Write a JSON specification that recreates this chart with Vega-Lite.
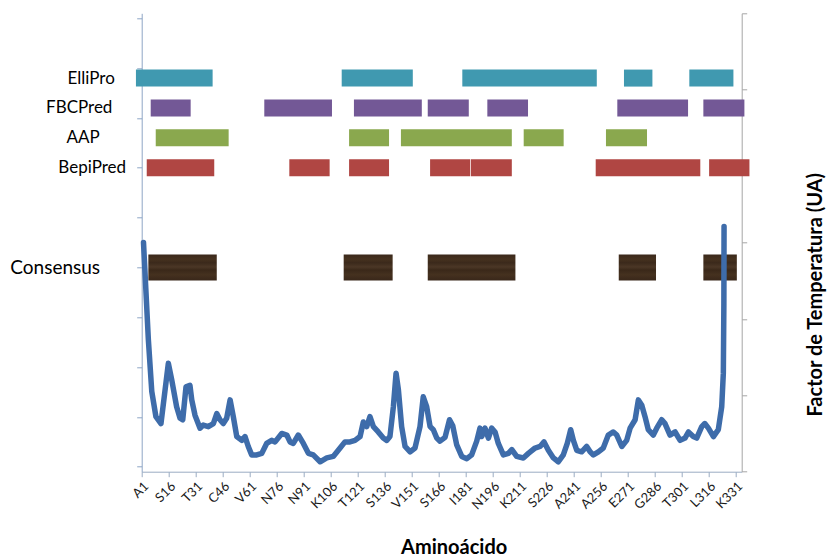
{
  "$schema": "https://vega.github.io/schema/vega-lite/v6.json",
  "width": 600,
  "height": 458.4,
  "autosize": {"type": "none"},
  "padding": {"left": 141.7, "top": 13.3, "right": 91.3, "bottom": 87.3},
  "background": "#ffffff",
  "config": {"view": {"stroke": null}, "axis": {"grid": false}},
  "datasets": {
    "epitopes": [
      {"method": "ElliPro", "level": 7.8, "start": -2.2, "end": 40.4},
      {"method": "ElliPro", "level": 7.8, "start": 112.1, "end": 151.6},
      {"method": "ElliPro", "level": 7.8, "start": 179.1, "end": 253.8},
      {"method": "ElliPro", "level": 7.8, "start": 268.9, "end": 284.7},
      {"method": "ElliPro", "level": 7.8, "start": 305.2, "end": 329.7},
      {"method": "FBCPred", "level": 7.2, "start": 6, "end": 28.2},
      {"method": "FBCPred", "level": 7.2, "start": 69.1, "end": 106.7},
      {"method": "FBCPred", "level": 7.2, "start": 118.9, "end": 156.6},
      {"method": "FBCPred", "level": 7.2, "start": 159.9, "end": 182.7},
      {"method": "FBCPred", "level": 7.2, "start": 193, "end": 215.6},
      {"method": "FBCPred", "level": 7.2, "start": 265.2, "end": 304.5},
      {"method": "FBCPred", "level": 7.2, "start": 313, "end": 335.8},
      {"method": "AAP", "level": 6.6, "start": 8.8, "end": 49.3},
      {"method": "AAP", "level": 6.6, "start": 116.2, "end": 138.4},
      {"method": "AAP", "level": 6.6, "start": 145, "end": 206.6},
      {"method": "AAP", "level": 6.6, "start": 213.2, "end": 235.4},
      {"method": "AAP", "level": 6.6, "start": 258.9, "end": 281.7},
      {"method": "BepiPred", "level": 6, "start": 3.8, "end": 41.3},
      {"method": "BepiPred", "level": 6, "start": 83, "end": 105.4},
      {"method": "BepiPred", "level": 6, "start": 116.2, "end": 138.4},
      {"method": "BepiPred", "level": 6, "start": 161.2, "end": 183.4},
      {"method": "BepiPred", "level": 6, "start": 183.8, "end": 206.6},
      {"method": "BepiPred", "level": 6, "start": 253.2, "end": 311.3},
      {"method": "BepiPred", "level": 6, "start": 316.2, "end": 338.6},
      {"method": "Consensus", "level": 4, "start": 4.7, "end": 42.7},
      {"method": "Consensus", "level": 4, "start": 113.2, "end": 140.4},
      {"method": "Consensus", "level": 4, "start": 159.9, "end": 208.6},
      {"method": "Consensus", "level": 4, "start": 266, "end": 286.7},
      {"method": "Consensus", "level": 4, "start": 313, "end": 331.6}
    ],
    "bfactor": [
      {"residue": 2, "factor": 3.0}, {"residue": 4.7, "factor": 1.73}, {"residue": 6.6, "factor": 1.05},
      {"residue": 8.9, "factor": 0.72}, {"residue": 11.7, "factor": 0.63}, {"residue": 15.8, "factor": 1.42},
      {"residue": 17.7, "factor": 1.2}, {"residue": 20.4, "factor": 0.85}, {"residue": 22.3, "factor": 0.7},
      {"residue": 23.8, "factor": 0.68}, {"residue": 25.6, "factor": 1.11}, {"residue": 27.8, "factor": 1.13},
      {"residue": 28.8, "factor": 0.94}, {"residue": 30.6, "factor": 0.74}, {"residue": 33.4, "factor": 0.57},
      {"residue": 35.2, "factor": 0.61}, {"residue": 38, "factor": 0.59}, {"residue": 40.8, "factor": 0.63},
      {"residue": 42.7, "factor": 0.76}, {"residue": 44.5, "factor": 0.68}, {"residue": 46.3, "factor": 0.63},
      {"residue": 48.2, "factor": 0.7}, {"residue": 50.1, "factor": 0.94}, {"residue": 51.9, "factor": 0.72},
      {"residue": 53.8, "factor": 0.46}, {"residue": 56.6, "factor": 0.41}, {"residue": 58.4, "factor": 0.46},
      {"residue": 60.2, "factor": 0.33}, {"residue": 62.1, "factor": 0.22}, {"residue": 64.9, "factor": 0.22},
      {"residue": 67.7, "factor": 0.24}, {"residue": 70.4, "factor": 0.37}, {"residue": 73.2, "factor": 0.41},
      {"residue": 75.1, "factor": 0.39}, {"residue": 78.8, "factor": 0.5}, {"residue": 81.6, "factor": 0.48},
      {"residue": 83.4, "factor": 0.39}, {"residue": 85.2, "factor": 0.37}, {"residue": 88, "factor": 0.48},
      {"residue": 90.8, "factor": 0.37}, {"residue": 93.6, "factor": 0.24}, {"residue": 96.3, "factor": 0.22},
      {"residue": 100.1, "factor": 0.13}, {"residue": 103.8, "factor": 0.18}, {"residue": 107.4, "factor": 0.2},
      {"residue": 111.2, "factor": 0.31}, {"residue": 113.9, "factor": 0.39}, {"residue": 116.7, "factor": 0.39},
      {"residue": 119.5, "factor": 0.41}, {"residue": 122.3, "factor": 0.46}, {"residue": 124.1, "factor": 0.65},
      {"residue": 126, "factor": 0.59}, {"residue": 127.8, "factor": 0.72}, {"residue": 129.7, "factor": 0.59},
      {"residue": 132.4, "factor": 0.52}, {"residue": 135.2, "factor": 0.44}, {"residue": 137.1, "factor": 0.41},
      {"residue": 138.9, "factor": 0.46}, {"residue": 140.8, "factor": 0.85}, {"residue": 142.3, "factor": 1.29},
      {"residue": 143.6, "factor": 1.07}, {"residue": 145.4, "factor": 0.59}, {"residue": 147.3, "factor": 0.33},
      {"residue": 150.1, "factor": 0.26}, {"residue": 152.8, "factor": 0.31}, {"residue": 155.6, "factor": 0.59},
      {"residue": 157.4, "factor": 0.98}, {"residue": 159.3, "factor": 0.85}, {"residue": 161.2, "factor": 0.59},
      {"residue": 163, "factor": 0.55}, {"residue": 164.9, "factor": 0.44}, {"residue": 166.7, "factor": 0.4},
      {"residue": 169.5, "factor": 0.45}, {"residue": 172, "factor": 0.68}, {"residue": 173.8, "factor": 0.6},
      {"residue": 176, "factor": 0.35}, {"residue": 178.8, "factor": 0.2}, {"residue": 181.6, "factor": 0.17},
      {"residue": 184.3, "factor": 0.22}, {"residue": 187.1, "factor": 0.4}, {"residue": 188.9, "factor": 0.57},
      {"residue": 189.9, "factor": 0.46}, {"residue": 191.7, "factor": 0.57}, {"residue": 193.6, "factor": 0.44},
      {"residue": 195.4, "factor": 0.57}, {"residue": 197.3, "factor": 0.52}, {"residue": 199.1, "factor": 0.37},
      {"residue": 201.9, "factor": 0.22}, {"residue": 204.7, "factor": 0.24}, {"residue": 206.6, "factor": 0.29},
      {"residue": 209.3, "factor": 0.2}, {"residue": 213, "factor": 0.18}, {"residue": 215.8, "factor": 0.24},
      {"residue": 219.5, "factor": 0.31}, {"residue": 222.3, "factor": 0.33}, {"residue": 224.5, "factor": 0.39},
      {"residue": 226.9, "factor": 0.28}, {"residue": 229.7, "factor": 0.18}, {"residue": 232.4, "factor": 0.13},
      {"residue": 235.2, "factor": 0.22}, {"residue": 237.4, "factor": 0.37}, {"residue": 239.3, "factor": 0.55},
      {"residue": 240.8, "factor": 0.41}, {"residue": 242.7, "factor": 0.28}, {"residue": 245.4, "factor": 0.26},
      {"residue": 248.2, "factor": 0.33}, {"residue": 250.1, "factor": 0.26}, {"residue": 251.9, "factor": 0.22},
      {"residue": 254.7, "factor": 0.26}, {"residue": 257.4, "factor": 0.31}, {"residue": 260.2, "factor": 0.48},
      {"residue": 263, "factor": 0.52}, {"residue": 264.9, "factor": 0.48}, {"residue": 267.7, "factor": 0.33},
      {"residue": 270.4, "factor": 0.41}, {"residue": 272.3, "factor": 0.57}, {"residue": 275.1, "factor": 0.68},
      {"residue": 276.9, "factor": 0.94}, {"residue": 278.8, "factor": 0.87}, {"residue": 280.6, "factor": 0.72},
      {"residue": 282.4, "factor": 0.55}, {"residue": 285.2, "factor": 0.48}, {"residue": 287.1, "factor": 0.57},
      {"residue": 289.9, "factor": 0.68}, {"residue": 291.7, "factor": 0.63}, {"residue": 294.5, "factor": 0.48},
      {"residue": 297.3, "factor": 0.52}, {"residue": 300.1, "factor": 0.41}, {"residue": 302.8, "factor": 0.44},
      {"residue": 304.7, "factor": 0.52}, {"residue": 307.4, "factor": 0.46}, {"residue": 309.3, "factor": 0.44},
      {"residue": 312.1, "factor": 0.59}, {"residue": 313.8, "factor": 0.63}, {"residue": 315.8, "factor": 0.57},
      {"residue": 318.6, "factor": 0.46}, {"residue": 321.3, "factor": 0.55}, {"residue": 323.2, "factor": 0.85},
      {"residue": 324.1, "factor": 1.29}, {"residue": 324.4, "factor": 2.2}, {"residue": 324.5, "factor": 3.21}
    ]
  },
  "layer": [
    {
      "data": {"name": "epitopes"},
      "encoding": {
        "x": {
          "field": "start", "type": "quantitative",
          "scale": {"domain": [1, 334.3], "nice": false, "zero": false},
          "axis": {
            "values": [1, 16, 31, 46, 61, 76, 91, 106, 121, 136, 151, 166, 181, 196, 211, 226, 241, 256, 271, 286, 301, 316, 331],
            "labelExpr": "['A1','S16','T31','C46','V61','N76','N91','K106','T121','S136','V151','S166','I181','N196','K211','S226','A241','A256','E271','G286','T301','L316','K331'][round((datum.value-1)/15)]",
            "labelAngle": -45,
            "labelFont": "Lato",
            "labelFontSize": 13,
            "labelColor": "#1a1a1a",
            "labelPadding": 3,
            "labelOverlap": false,
            "labelBound": false,
            "labelFlush": false,
            "tickSize": 5,
            "tickColor": "#9aabc2",
            "domainColor": "#9aabc2",
            "title": "Aminoácido",
            "titleFont": "Lato",
            "titleFontSize": 20,
            "titleFontWeight": "bold",
            "titleColor": "#000000",
            "titleX": 312,
            "titleY": 82,
            "titleBaseline": "alphabetic",
            "titleAnchor": null
          }
        },
        "x2": {"field": "end"},
        "y": {
          "field": "level", "type": "quantitative",
          "scale": {"domain": [0, 9], "nice": false},
          "axis": {
            "orient": "left",
            "values": [0, 1, 2, 3, 4, 5, 6, 6.6, 7, 7.2, 7.8, 8, 9],
            "title": null,
            "domainColor": "#8ea6c6",
            "tickColor": "#8ea6c6",
            "tickSize": 5,
            "tickOpacity": {"condition": {"test": "datum.value == 6.6 || datum.value == 7.2 || datum.value == 7.8", "value": 0}, "value": 1},
            "labelExpr": "datum.value == 7.8 ? 'ElliPro' : datum.value == 7.2 ? 'FBCPred' : datum.value == 6.6 ? 'AAP' : datum.value == 6 ? 'BepiPred' : datum.value == 4 ? 'Consensus' : ''",
            "labelAlign": "center",
            "labelBaseline": "middle",
            "labelFont": "Lato",
            "labelFontSize": {"condition": {"test": "datum.value == 4", "value": 19}, "value": 17},
            "labelPadding": {"condition": [
              {"test": "datum.value == 7.8", "value": 46},
              {"test": "datum.value == 7.2", "value": 58},
              {"test": "datum.value == 6.6", "value": 54},
              {"test": "datum.value == 6", "value": 45},
              {"test": "datum.value == 4", "value": 82}
            ], "value": 5},
            "labelColor": "#000000",
            "labelOverlap": false,
            "labelBound": false
          }
        }
      },
      "layer": [
        {
          "transform": [{"filter": "datum.method != 'Consensus'"}],
          "mark": {"type": "bar", "height": 17, "clip": false},
          "encoding": {
            "color": {
              "field": "method", "type": "nominal",
              "scale": {"domain": ["ElliPro", "FBCPred", "AAP", "BepiPred"], "range": ["#4099b0", "#735896", "#8aa84e", "#b04643"]},
              "legend": null
            }
          }
        },
        {
          "transform": [{"filter": "datum.method == 'Consensus'"}],
          "mark": {
            "type": "bar", "height": 26, "clip": false,
            "color": {
              "gradient": "linear", "x1": 0, "y1": 0, "x2": 0, "y2": 1,
              "stops": [
                {"offset": 0, "color": "#3a281b"},
                {"offset": 0.18, "color": "#46321f"},
                {"offset": 0.32, "color": "#3b291b"},
                {"offset": 0.48, "color": "#4b3726"},
                {"offset": 0.6, "color": "#3a2819"},
                {"offset": 0.78, "color": "#45311f"},
                {"offset": 1, "color": "#39271a"}
              ]
            }
          }
        }
      ]
    },
    {
      "data": {"name": "bfactor"},
      "mark": {"type": "line", "strokeWidth": 5.5, "color": "#3e6caa", "strokeCap": "round", "strokeJoin": "round", "clip": false},
      "encoding": {
        "x": {
          "field": "residue", "type": "quantitative",
          "scale": {"domain": [1, 334.3], "nice": false, "zero": false},
          "axis": {
            "values": [1, 16, 31, 46, 61, 76, 91, 106, 121, 136, 151, 166, 181, 196, 211, 226, 241, 256, 271, 286, 301, 316, 331],
            "labelExpr": "['A1','S16','T31','C46','V61','N76','N91','K106','T121','S136','V151','S166','I181','N196','K211','S226','A241','A256','E271','G286','T301','L316','K331'][round((datum.value-1)/15)]",
            "labelAngle": -45,
            "labelFont": "Lato",
            "labelFontSize": 13,
            "labelColor": "#1a1a1a",
            "labelPadding": 3,
            "labelOverlap": false,
            "labelBound": false,
            "labelFlush": false,
            "tickSize": 5,
            "tickColor": "#9aabc2",
            "domainColor": "#9aabc2",
            "title": "Aminoácido",
            "titleFont": "Lato",
            "titleFontSize": 20,
            "titleFontWeight": "bold",
            "titleColor": "#000000",
            "titleX": 312,
            "titleY": 82,
            "titleBaseline": "alphabetic",
            "titleAnchor": null
          }
        },
        "y": {
          "field": "factor", "type": "quantitative",
          "scale": {"domain": [0, 6], "nice": false},
          "axis": {
            "orient": "right",
            "values": [0, 1, 2, 3, 4, 5, 6],
            "labels": false,
            "tickSize": 5,
            "tickColor": "#a6a6a6",
            "domainColor": "#a6a6a6",
            "title": "Factor de Temperatura (UA)",
            "titleFont": "Lato",
            "titleFontSize": 20,
            "titleFontWeight": "bold",
            "titleColor": "#000000",
            "titleAngle": -90,
            "titleAlign": "center",
            "titleBaseline": "alphabetic",
            "titleX": 80,
            "titleY": 281,
            "titleAnchor": null
          }
        }
      }
    }
  ],
  "resolve": {"scale": {"y": "independent"}}
}
